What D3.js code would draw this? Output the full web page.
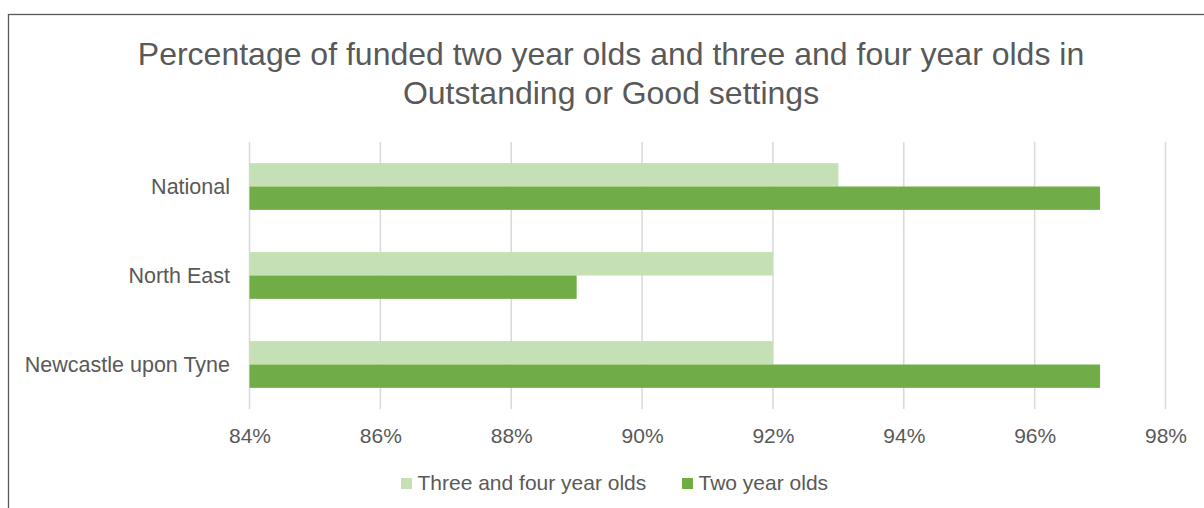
<!DOCTYPE html>
<html>
<head>
<meta charset="utf-8">
<script src="https://cdn.jsdelivr.net/npm/d3@7"></script>
<style>
  html, body { margin: 0; padding: 0; background: #fff; }
  svg { display: block; font-family: "Liberation Sans", Arial, sans-serif; }
</style>
</head>
<body>
<svg id="chart" width="1204" height="508"></svg>
<script>
// Chart data
const categories = ["National", "North East", "Newcastle upon Tyne"];
const seriesNames = ["Three and four year olds", "Two year olds"];
const threeFourValues = [93, 92, 92];
const twoValues = [97, 89, 97];
const xTicks = [84, 86, 88, 90, 92, 94, 96, 98];
const titleLines = ["Percentage of funded two year olds and three and four year olds in", "Outstanding or Good settings"];
const seriesColors = ["#C5E0B4", "#70AD47"];

const rows = categories.map((c, i) => ({ category: c, values: [threeFourValues[i], twoValues[i]] }));

const svg = d3.select("#chart");
const textColor = "#595959";

// Outer frame of the chart area
svg.append("rect")
  .attr("x", 8.5).attr("y", 14.5)
  .attr("width", 1220).attr("height", 520)
  .attr("fill", "none").attr("stroke", "#595959").attr("stroke-width", 1.3);

// Title
svg.append("text")
  .attr("x", 611).attr("y", 65)
  .attr("text-anchor", "middle")
  .attr("fill", textColor)
  .style("font-size", "32px")
  .selectAll("tspan").data(titleLines).join("tspan")
  .attr("x", 611)
  .attr("dy", (d, i) => i === 0 ? 0 : 38.5)
  .text(d => d);

const plot = { left: 249.5, right: 1165.5, top: 142, bottom: 409 };

const x = d3.scaleLinear().domain([84, 98]).range([plot.left, plot.right]);
const y = d3.scaleBand().domain(categories).range([plot.top, plot.bottom]).paddingInner(0.475).paddingOuter(0.2375);
const ySub = d3.scaleBand().domain(seriesNames).range([0, y.bandwidth()]);

// Vertical gridlines
svg.append("g").selectAll("line").data(xTicks).join("line")
  .attr("x1", d => x(d)).attr("x2", d => x(d))
  .attr("y1", plot.top).attr("y2", plot.bottom)
  .attr("stroke", "#D9D9D9").attr("stroke-width", 1.5);

// Bars
const groups = svg.append("g").selectAll("g").data(rows).join("g")
  .attr("transform", d => `translate(0,${y(d.category)})`);
groups.selectAll("rect")
  .data(d => d.values.map((v, i) => ({ name: seriesNames[i], value: v, idx: i })))
  .join("rect")
  .attr("x", x(84))
  .attr("y", d => ySub(d.name))
  .attr("width", d => x(d.value) - x(84))
  .attr("height", ySub.bandwidth())
  .attr("fill", d => seriesColors[d.idx]);

// X axis labels
const xAxis = d3.axisBottom(x).tickValues(xTicks).tickFormat(d => d + "%").tickSize(0).tickPadding(0);
const gx = svg.append("g").attr("transform", `translate(0,${plot.bottom})`).call(xAxis);
gx.select(".domain").remove();
gx.selectAll("text")
  .attr("y", 34).attr("dy", 0)
  .attr("fill", textColor)
  .style("font-size", "21px")
  .style("font-family", "'Liberation Sans', Arial, sans-serif");

// Category labels
const yAxis = d3.axisLeft(y).tickSize(0).tickPadding(0);
const gy = svg.append("g").attr("transform", `translate(230,0)`).call(yAxis);
gy.select(".domain").remove();
gy.selectAll("text")
  .attr("dy", "0.33em")
  .attr("fill", textColor)
  .style("font-size", "21.5px")
  .style("font-family", "'Liberation Sans', Arial, sans-serif");

// Legend
const legendItems = [
  { name: seriesNames[0], color: seriesColors[0], x: 401 },
  { name: seriesNames[1], color: seriesColors[1], x: 682 }
];
const lg = svg.append("g").selectAll("g").data(legendItems).join("g")
  .attr("transform", d => `translate(${d.x},478)`);
lg.append("rect").attr("width", 11).attr("height", 11).attr("fill", d => d.color);
lg.append("text")
  .attr("x", 16.5).attr("y", 12)
  .attr("fill", textColor)
  .style("font-size", "21px")
  .text(d => d.name);
</script>
</body>
</html>
